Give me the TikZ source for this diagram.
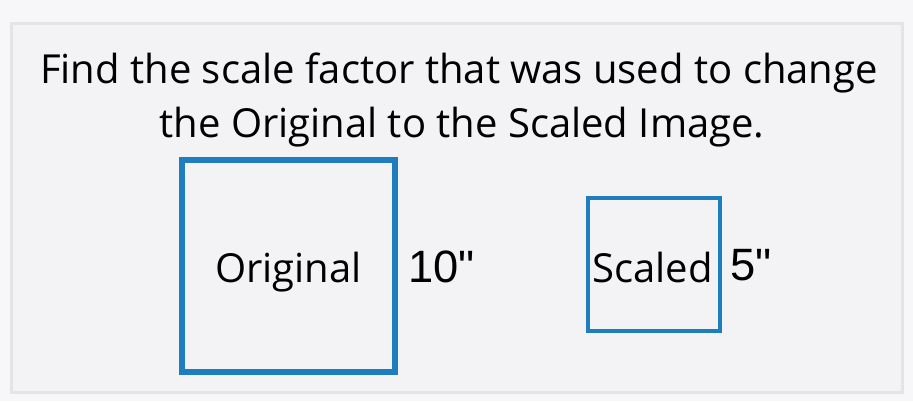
\documentclass[tikz,border=0pt]{standalone}
\usepackage{fontspec}
\setmainfont{Open Sans}
\newfontfamily\digitfont{Liberation Sans}
\definecolor{pagebg}{RGB}{247,247,249}
\definecolor{panelbg}{RGB}{243,243,245}
\definecolor{panelline}{RGB}{228,228,231}
\definecolor{boxblue}{RGB}{30,125,190}
\tikzset{every picture/.style={line width=0.75pt}}
\tikzset{
  title/.style={inner sep=0pt, font=\fontsize{30}{36}\selectfont},
  boxlabel/.style={inner sep=0pt, font=\fontsize{30}{36}\selectfont},
  sidelabel/.style={anchor=west, inner sep=0pt, font=\digitfont\fontsize{34}{40}\selectfont}
}
\begin{document}
\begin{tikzpicture}[x=0.75pt,y=0.75pt,yscale=-1,xscale=1]
%set diagram size 913 x 401
\fill [pagebg] (0,0) rectangle (913,401);
\useasboundingbox (0,0) rectangle (913,401);

%Shape: Rectangle [id:panel]
\draw [color=panelline, fill=panelbg, line width=2.25] (11,23) -- (902,23) -- (902,392) -- (11,392) -- cycle ;

%Shape: Square [id:original]
\draw [color=boxblue, line width=4.5] (181.5,160) -- (395,160) -- (395,372) -- (181.5,372) -- cycle ;
%Shape: Square [id:scaled]
\draw [color=boxblue, line width=3] (587.5,198) -- (720,198) -- (720,330.5) -- (587.5,330.5) -- cycle ;

% Text Node
\draw (459,83) node [title, anchor=base] (line1) {Find the scale factor that was used to change};
% Text Node
\draw (462,137) node [title, anchor=base] (line2) {the Original to the Scaled Image.};
% Text Node
\draw (288.5,282) node [boxlabel, anchor=base] (orig) {Original};
% Text Node
\draw (652.5,282) node [boxlabel, anchor=base] (scal) {Scaled};
% Text Node
\draw (408,267) node [sidelabel] (ten) {10"};
% Text Node
\draw (730,265) node [sidelabel] (five) {5"};

\end{tikzpicture}
\end{document}
